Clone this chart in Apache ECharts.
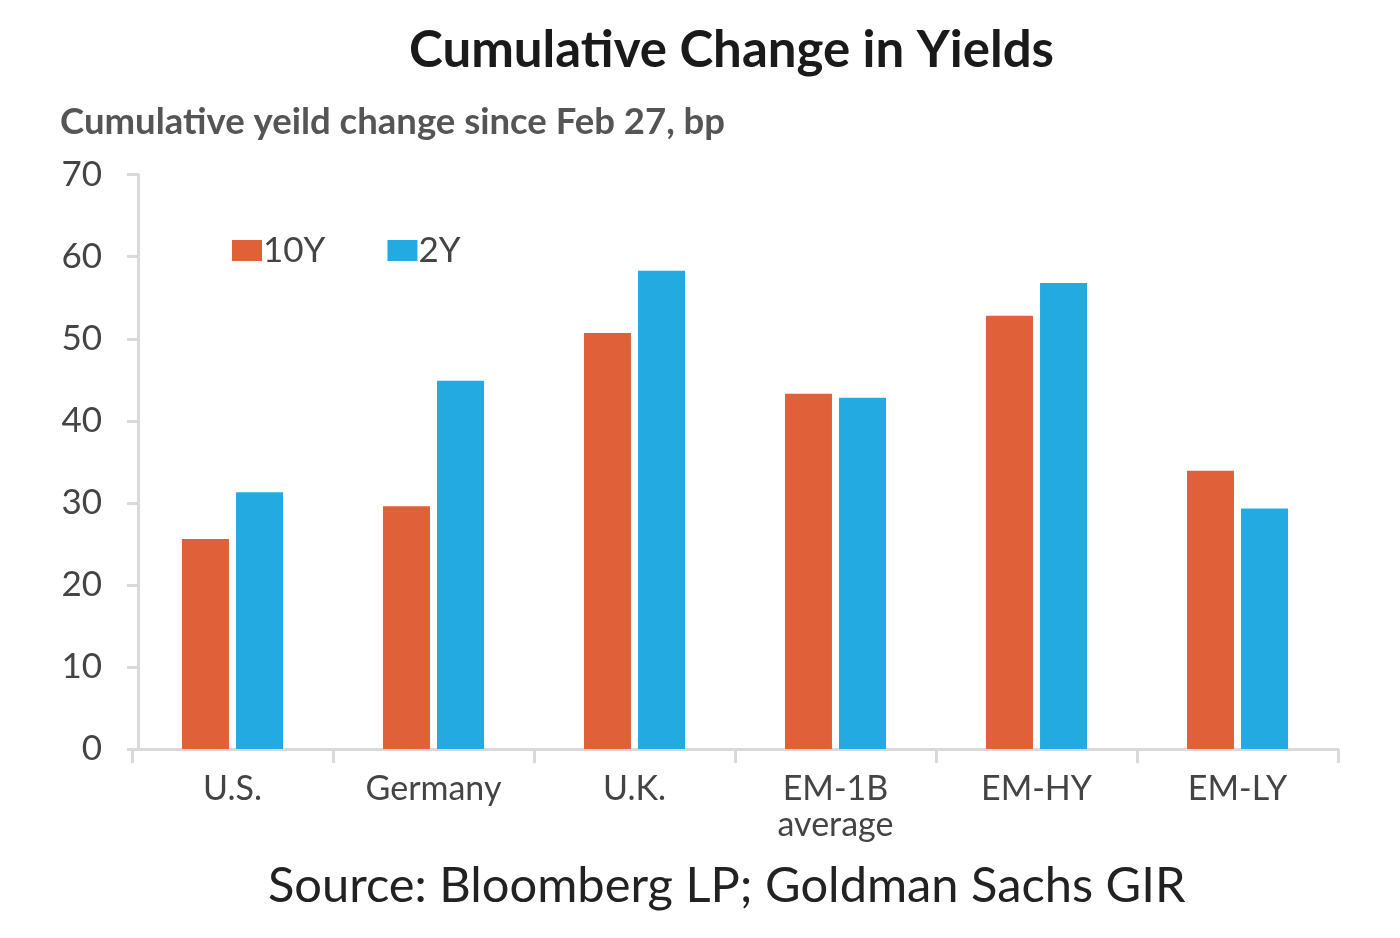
<!DOCTYPE html>
<html>
<head>
<meta charset="utf-8">
<script src="https://cdn.jsdelivr.net/npm/echarts@6/dist/echarts.min.js"></script>
<style>html,body{margin:0;padding:0;background:#fff}#c{width:1400px;height:938px}</style>
</head>
<body>
<div id="c"></div>
<script>
const categories = ['U.S.', 'Germany', 'U.K.', 'EM-1B\naverage', 'EM-HY', 'EM-LY'];
const seriesNames = ['10Y', '2Y'];
const values10Y = [25.6, 29.6, 50.7, 43.3, 52.8, 33.9];
const values2Y = [31.3, 44.9, 58.3, 42.8, 56.8, 29.3];
const yTicks = [0, 10, 20, 30, 40, 50, 60, 70];

const chart = echarts.init(document.getElementById('c'));
const FONT = 'Lato';
chart.setOption({
  animation: false,
  textStyle: { fontFamily: FONT },
  title: [
    { text: 'Cumulative Change in Yields', left: 404, top: 20,
      textStyle: { fontFamily: FONT, fontSize: 51, fontWeight: 'bold', color: '#1a1a1a' } },
    { text: 'Cumulative yeild change since Feb 27, bp', left: 55, top: 99,
      textStyle: { fontFamily: FONT, fontSize: 36.5, fontWeight: 'bold', color: '#555555' } },
    { text: 'Source: Bloomberg LP; Goldman Sachs GIR', left: 263, top: 857,
      textStyle: { fontFamily: FONT, fontSize: 48.8, fontWeight: 'normal', color: '#222222' } }
  ],
  legend: {
    data: seriesNames, left: 227, top: 228, itemWidth: 30, itemHeight: 21, itemGap: 62,
    icon: 'rect',
    textStyle: { fontFamily: FONT, fontSize: 35, color: '#444', padding: [0, 0, 0, -4] }
  },
  grid: { left: 132, right: 62, top: 174.7, bottom: 189 },
  xAxis: {
    type: 'category', data: categories,
    axisLine: { lineStyle: { color: '#d9d9d9', width: 3 } },
    axisTick: { show: true, length: 14, lineStyle: { color: '#d9d9d9', width: 3 } },
    axisLabel: { fontFamily: FONT, fontSize: 34, color: '#444', margin: 22, lineHeight: 36 }
  },
  yAxis: {
    type: 'value', min: 0, max: 70, interval: 10, offset: -6,
    axisLine: { show: true, lineStyle: { color: '#d9d9d9', width: 3 } },
    axisTick: { show: true, length: 11, lineStyle: { color: '#d9d9d9', width: 3 } },
    splitLine: { show: false },
    axisLabel: { fontFamily: FONT, fontSize: 35, color: '#444', margin: 36,
      formatter: v => yTicks.includes(v) ? String(v) : '' }
  },
  series: [
    { name: seriesNames[0], type: 'bar', data: values10Y, barWidth: 47, barGap: '15%',
      itemStyle: { color: '#E0603A' } },
    { name: seriesNames[1], type: 'bar', data: values2Y, barWidth: 47, barGap: '15%',
      itemStyle: { color: '#23ABE1' } }
  ]
});
</script>
</body>
</html>
